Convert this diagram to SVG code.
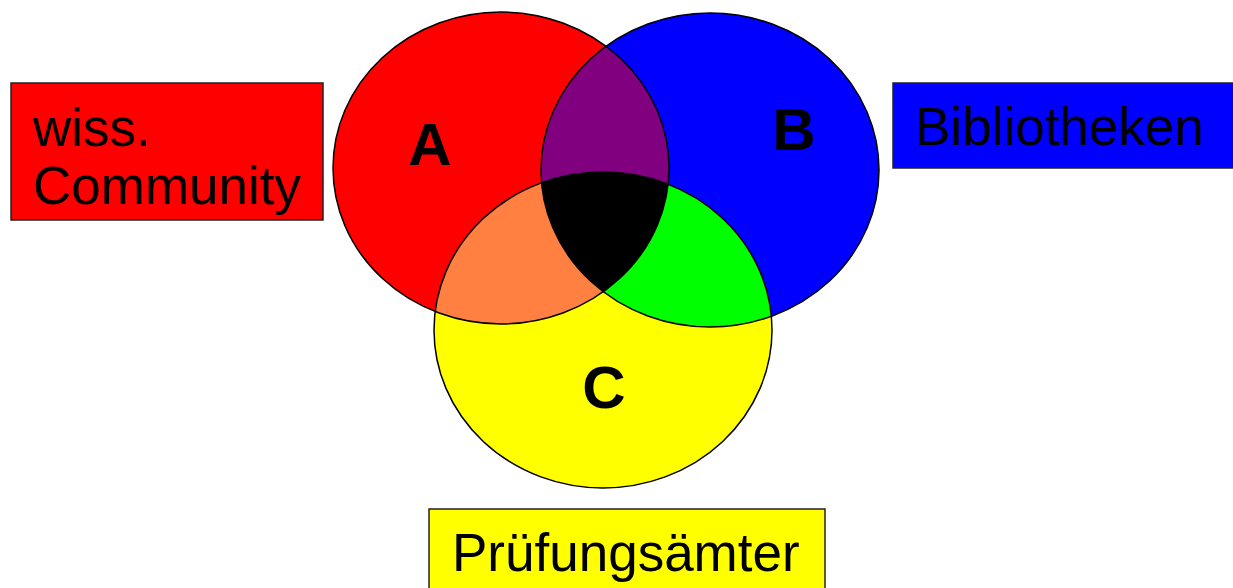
<svg xmlns="http://www.w3.org/2000/svg" width="1233" height="588" viewBox="0 0 1233 588">
<style>
.lbl{font-family:"Liberation Sans",Arial,sans-serif;font-size:53px;fill:#000}
.big{font-family:"Liberation Sans",Arial,sans-serif;font-size:60px;font-weight:bold;fill:#000;text-anchor:middle}
.box{stroke:#222;stroke-width:1.5}
.ring{fill:none;stroke:#000;stroke-width:1.5}
</style>
<defs>
<clipPath id="clipA"><ellipse cx="501" cy="168" rx="168" ry="156"/></clipPath>
<clipPath id="clipB"><ellipse cx="710" cy="170" rx="169" ry="157"/></clipPath>
</defs>
<rect width="1233" height="588" fill="#fff"/>
<g id="venn">
<ellipse id="setA" cx="501" cy="168" rx="168" ry="156" fill="#ff0000"/>
<ellipse id="setB" cx="710" cy="170" rx="169" ry="157" fill="#0000ff"/>
<ellipse id="setC" cx="603" cy="330" rx="169" ry="158" fill="#ffff00"/>
<ellipse id="AB" cx="710" cy="170" rx="169" ry="157" fill="#800080" clip-path="url(#clipA)"/>
<ellipse id="AC" cx="603" cy="330" rx="169" ry="158" fill="#ff8040" clip-path="url(#clipA)"/>
<ellipse id="BC" cx="603" cy="330" rx="169" ry="158" fill="#00ff00" clip-path="url(#clipB)"/>
<g clip-path="url(#clipA)"><ellipse id="ABC" cx="603" cy="330" rx="169" ry="158" fill="#000" clip-path="url(#clipB)"/></g>
<ellipse class="ring" cx="501" cy="168" rx="168" ry="156"/>
<ellipse class="ring" cx="710" cy="170" rx="169" ry="157"/>
<ellipse class="ring" cx="603" cy="330" rx="169" ry="158"/>
<text class="big" x="430" y="165">A</text>
<text class="big" x="794" y="150">B</text>
<text class="big" x="604" y="408">C</text>
</g>
<g id="labelA">
<rect class="box" x="11" y="83" width="312" height="137" fill="#ff0000"/>
<text class="lbl" x="33" y="146">wiss.</text>
<text class="lbl" x="33" y="204">Community</text>
</g>
<g id="labelB">
<rect class="box" x="893" y="83" width="345" height="85" fill="#0000ff"/>
<text class="lbl" x="915" y="145">Bibliotheken</text>
</g>
<g id="labelC">
<rect class="box" x="429" y="509" width="396" height="90" fill="#ffff00"/>
<text class="lbl" x="452" y="571">Prüfungsämter</text>
</g>
<g id="connectors"/>
</svg>
